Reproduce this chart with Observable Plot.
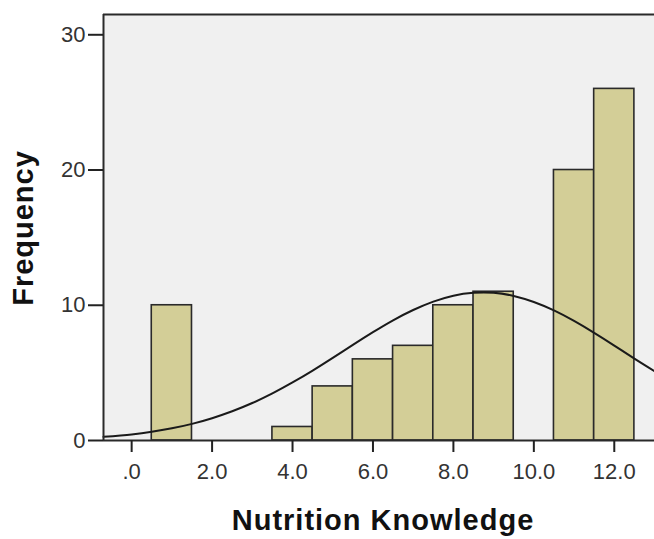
<!DOCTYPE html>
<html>
<head>
<meta charset="utf-8">
<script src="https://cdn.jsdelivr.net/npm/d3@7"></script>
<script src="https://cdn.jsdelivr.net/npm/@observablehq/plot@0.6"></script>
<style>
  body { margin: 0; background: #fff; }
</style>
</head>
<body>
<div id="chart"></div>
<script>
// Histogram bins (centers) and their frequencies
const binCenters = [1, 4, 5, 6, 7, 8, 9, 11, 12];
const frequencies = [10, 1, 4, 6, 7, 10, 11, 20, 26];
const binWidth = 1;

// Normal curve, values
const curveX = [-0.7, 0, 0.5, 1, 1.5, 2, 2.5, 3, 3.5, 4, 4.5, 5, 5.5, 6, 6.5, 7, 7.5, 8, 8.5, 9, 9.5, 10, 10.5, 11, 11.5, 12, 12.5, 13];
const curveY = [0.27, 0.45, 0.64, 0.90, 1.23, 1.65, 2.16, 2.77, 3.48, 4.29, 5.17, 6.11, 7.07, 8.01, 8.89, 9.65, 10.27, 10.71, 10.92, 10.92, 10.69, 10.24, 9.62, 8.84, 7.96, 7.02, 6.06, 5.13];

// Axes
const xDomain = [-0.7, 13.0];
const yDomain = [0, 31.5];
const xTicks = [0, 2, 4, 6, 8, 10, 12];
const yTicks = [0, 10, 20, 30];
const xTitle = "Nutrition Knowledge";
const yTitle = "Frequency";

const bars = binCenters.map((c, i) => ({ x1: c - binWidth / 2, x2: c + binWidth / 2, count: frequencies[i] }));
const curve = curveX.map((x, i) => ({ x, y: curveY[i] }));

const chart = Plot.plot({
  width: 654,
  height: 539,
  marginLeft: 103,
  marginRight: 0,
  marginTop: 14,
  marginBottom: 99,
  style: { fontFamily: "'Liberation Sans', Arial, sans-serif", fontSize: "22px", color: "#333", background: "#fff", overflow: "visible" },
  x: { domain: xDomain },
  y: { domain: yDomain },
  marks: [
    Plot.frame({ fill: "#f0f0f0", stroke: null }),
    Plot.rectY(bars, { x1: "x1", x2: "x2", y: "count", fill: "#d3ce97", stroke: "#2a2a2a", strokeWidth: 1.6 }),
    Plot.line(curve, { x: "x", y: "y", curve: "natural", stroke: "#1a1a1a", strokeWidth: 2 }),
    Plot.ruleX([xDomain[0]], { stroke: "#2a2a2a", strokeWidth: 2 }),
    Plot.ruleY([yDomain[0], yDomain[1]], { stroke: "#2a2a2a", strokeWidth: 2 }),
    Plot.axisX({ ticks: xTicks, tickFormat: d => d === 0 ? ".0" : d.toFixed(1), tickSize: 12, tickPadding: 11, strokeWidth: 2, stroke: "#222", fill: "#333", fontSize: 22, label: null }),
    Plot.axisY({ ticks: yTicks, tickFormat: d => String(d), tickSize: 15, tickPadding: 3, strokeWidth: 2, stroke: "#222", fill: "#333", fontSize: 22, label: null })
  ]
});

const svg = d3.select(chart);
svg.append("text")
  .attr("transform", "translate(33,228) rotate(-90)")
  .attr("text-anchor", "middle")
  .attr("font-weight", "bold")
  .attr("font-size", 29)
  .attr("letter-spacing", 1)
  .attr("fill", "#111")
  .text(yTitle);
svg.append("text")
  .attr("x", 383)
  .attr("y", 530)
  .attr("text-anchor", "middle")
  .attr("font-weight", "bold")
  .attr("font-size", 29)
  .attr("letter-spacing", 1)
  .attr("fill", "#111")
  .text(xTitle);

document.getElementById("chart").appendChild(chart);
</script>
</body>
</html>
